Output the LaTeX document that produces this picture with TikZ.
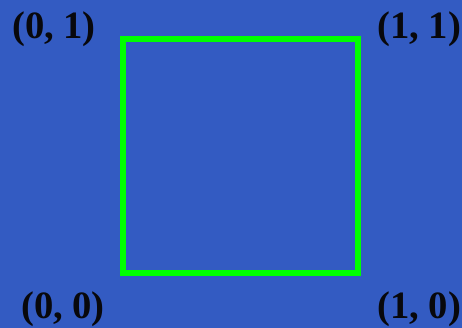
\documentclass[tikz,border=0pt]{standalone}
\usepackage{xcolor}
\usepackage{fontspec}
\setmainfont{Liberation Serif}
\usepackage{tikz}
\usetikzlibrary{positioning,calc}
\definecolor{fondo}{RGB}{51,91,194}
\definecolor{verdecuadro}{RGB}{0,255,0}
\definecolor{textoesquina}{RGB}{8,8,12}

\begin{document}
\begin{tikzpicture}[
  esquina/.style={font=\fontsize{22}{26}\selectfont\bfseries, color=textoesquina,
    inner sep=0pt},
  borde/.style={draw=verdecuadro, line width=3.6pt}
]
\fill[fondo] (0,0) rectangle (9.24,6.56);
\useasboundingbox (0,0) rectangle (9.24,6.56);
% corners of the square
\coordinate (sw) at (2.466,1.106);
\coordinate (ne) at (7.16,5.786);
\draw[borde] (sw) rectangle (ne);
% corner labels
\node[esquina] (l01) at (1.08,5.98) {(0, 1)};
\node[esquina] (l11) at (8.38,5.98) {(1, 1)};
\node[esquina] (l00) at (1.26,0.37) {(0, 0)};
\node[esquina] (l10) at (8.38,0.37) {(1, 0)};
\end{tikzpicture}
\end{document}
